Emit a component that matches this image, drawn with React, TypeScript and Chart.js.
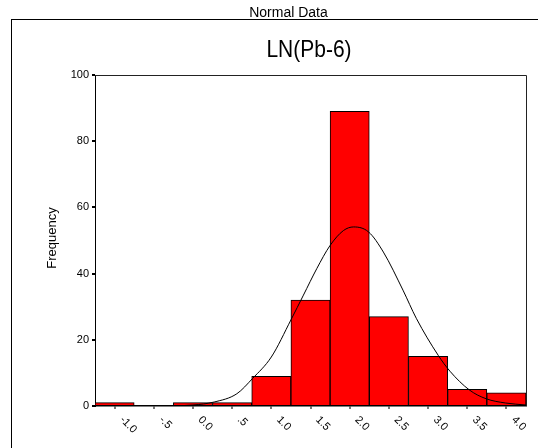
import React, { useEffect, useRef } from "react";
import { Chart, registerables } from "chart.js";

Chart.register(...registerables);

// Histogram bins (centres) and frequencies
const binCenters = [-1.0, -0.5, 0.0, 0.5, 1.0, 1.5, 2.0, 2.5, 3.0, 3.5, 4.0];
const frequencies = [1, 0, 1, 1, 9, 32, 89, 27, 15, 5, 4];
const tickLabels = ["-1.0", "-.5", "0.0", ".5", "1.0", "1.5", "2.0", "2.5", "3.0", "3.5", "4.0"];

// Normal curve overlay
const curveX = [-1.25, -0.5, 0.0, 0.27, 0.56, 0.76, 1.0, 1.25, 1.41, 1.58, 1.75, 1.92, 2.05, 2.24, 2.43, 2.68, 2.85, 3.13, 3.28, 3.53, 3.74, 3.99, 4.25];
const curveY = [0, 0, 0.3, 1.2, 3.7, 8.3, 14.8, 26, 33.5, 41.5, 48.5, 53, 54.1, 52.6, 46.5, 35, 26.5, 15.3, 10.5, 4.8, 2.2, 0.9, 0.3];

const yTicks = [0, 20, 40, 60, 80, 100];

const pageTitle = "Normal Data";
const chartTitle = "LN(Pb-6)";
const yTitle = "Frequency";

const FONT = "'Liberation Sans', Arial, sans-serif";

export default function App() {
  const ref = useRef<HTMLCanvasElement | null>(null);

  useEffect(() => {
    const canvas = ref.current;
    if (!canvas) return;

    const decor = {
      id: "decor",
      beforeDraw(chart: any) {
        const ctx = chart.ctx;
        ctx.save();
        ctx.fillStyle = "#fff";
        ctx.fillRect(0, 0, chart.width, chart.height);
        // outer frame (extends beyond the picture on the right and bottom)
        ctx.strokeStyle = "#000";
        ctx.lineWidth = 1;
        ctx.strokeRect(11.5, 19.5, 600, 500);
        // page title
        ctx.fillStyle = "#000";
        ctx.font = `14px ${FONT}`;
        ctx.textAlign = "center";
        ctx.textBaseline = "alphabetic";
        ctx.fillText(pageTitle, 288.5, 17);
        // chart title
        ctx.save();
        ctx.translate(309, 57);
        ctx.scale(1, 1.1);
        ctx.font = `21px ${FONT}`;
        ctx.fillText(chartTitle, 0, 0);
        ctx.restore();
        // y title
        ctx.save();
        ctx.translate(52, 238);
        ctx.rotate(-Math.PI / 2);
        ctx.font = `13px ${FONT}`;
        ctx.textBaseline = "middle";
        ctx.fillText(yTitle, 0, 0);
        ctx.restore();
        ctx.restore();
      },
      afterDraw(chart: any) {
        const ctx = chart.ctx;
        const a = chart.chartArea;
        ctx.save();
        ctx.strokeStyle = "#222";
        ctx.lineWidth = 1;
        ctx.beginPath();
        ctx.moveTo(a.left, a.top + 0.5);
        ctx.lineTo(a.right + 0.5, a.top + 0.5);
        ctx.lineTo(a.right + 0.5, a.bottom);
        ctx.stroke();
        // rotated x tick labels
        const xs = chart.scales.x;
        ctx.fillStyle = "#000";
        ctx.font = `11px ${FONT}`;
        ctx.textAlign = "left";
        ctx.textBaseline = "middle";
        binCenters.forEach((v, i) => {
          const px = xs.getPixelForValue(v);
          ctx.save();
          ctx.translate(px + 7, a.bottom + 12);
          ctx.rotate(Math.PI / 4);
          ctx.fillText(tickLabels[i], 0, 0);
          ctx.restore();
        });
        ctx.restore();
      },
    };

    const chart = new Chart(canvas, {
      type: "bar",
      data: {
        datasets: [
          {
            type: "line",
            data: curveX.map((x, i) => ({ x, y: curveY[i] })),
            borderColor: "#000",
            borderWidth: 1,
            pointRadius: 0,
            fill: false,
            cubicInterpolationMode: "monotone",
            order: 0,
          } as any,
          {
            type: "bar",
            data: binCenters.map((x, i) => ({ x, y: frequencies[i] })),
            backgroundColor: "#ff0000",
            borderColor: "#000",
            borderWidth: 1,
            barPercentage: 1,
            categoryPercentage: 1,
            order: 1,
          } as any,
        ],
      },
      options: {
        animation: false,
        responsive: false,
        maintainAspectRatio: false,
        layout: { padding: { top: 75, right: 12, bottom: 0, left: 0 } },
        plugins: {
          legend: { display: false },
          tooltip: { enabled: false },
          title: { display: false },
        },
        scales: {
          x: {
            type: "linear",
            min: -1.25,
            max: 4.25,
            offset: false,
            afterBuildTicks: (scale: any) => {
              scale.ticks = binCenters.map((v) => ({ value: v }));
            },
            afterFit: (scale: any) => {
              scale.height = 42;
            },
            ticks: { display: false },
            grid: {
              offset: false,
              drawOnChartArea: false,
              drawTicks: true,
              tickLength: 3,
              lineWidth: 2,
              color: "#777",
            },
            border: { display: true, color: "#000", width: 1.5 },
          },
          y: {
            type: "linear",
            min: 0,
            max: 100,
            afterBuildTicks: (scale: any) => {
              scale.ticks = yTicks.map((v) => ({ value: v }));
            },
            afterFit: (scale: any) => {
              scale.width = 95;
            },
            ticks: {
              color: "#000",
              padding: 3,
              font: { family: FONT, size: 11 },
            },
            grid: {
              drawOnChartArea: false,
              drawTicks: true,
              tickLength: 3,
              lineWidth: 2,
              color: "#000",
            },
            border: { display: true, color: "#000", width: 1 },
          },
        },
      },
      plugins: [decor],
    } as any);

    return () => chart.destroy();
  }, []);

  return (
    <div style={{ position: "absolute", left: 0, top: 0, width: 538, height: 448 }}>
      <canvas ref={ref} width={538} height={448} style={{ display: "block" }} />
    </div>
  );
}
